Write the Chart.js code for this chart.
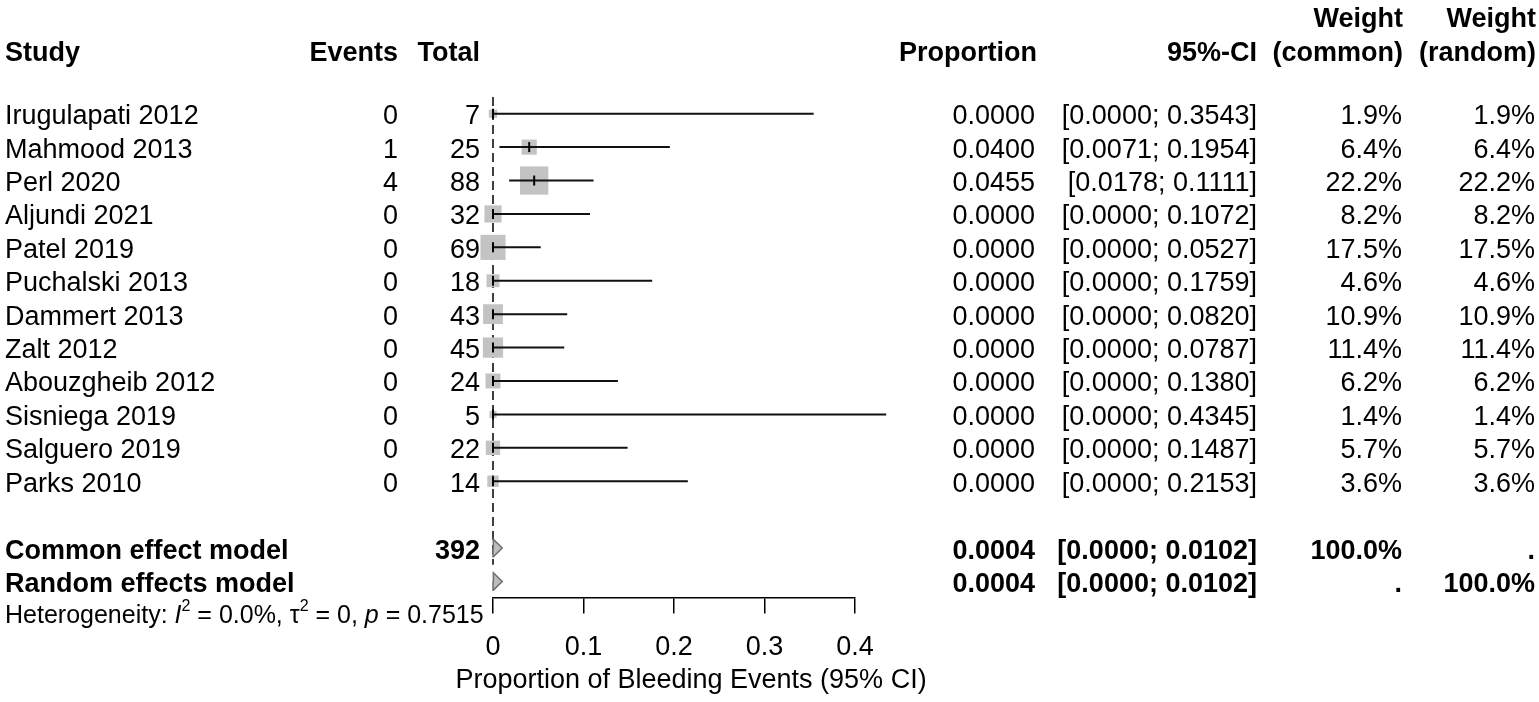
<!DOCTYPE html>
<html>
<head>
<meta charset="utf-8">
<title>Proportion of Bleeding Events - forest plot</title>
<script src="https://cdn.jsdelivr.net/npm/chart.js@4.4.1/dist/chart.umd.min.js"></script>
<style>
  html, body { margin: 0; padding: 0; background: #fff; }
  canvas { display: block; }
</style>
</head>
<body>
<canvas id="forest" width="1539" height="702"></canvas>
<script>
// study level data
const studies = ['Irugulapati 2012', 'Mahmood 2013', 'Perl 2020', 'Aljundi 2021', 'Patel 2019', 'Puchalski 2013',
  'Dammert 2013', 'Zalt 2012', 'Abouzgheib 2012', 'Sisniega 2019', 'Salguero 2019', 'Parks 2010'];
const events = [0, 1, 4, 0, 0, 0, 0, 0, 0, 0, 0, 0];
const totals = [7, 25, 88, 32, 69, 18, 43, 45, 24, 5, 22, 14];
const proportion = [0, 0.0400, 0.0455, 0, 0, 0, 0, 0, 0, 0, 0, 0];
const ciLower = [0, 0.0071, 0.0178, 0, 0, 0, 0, 0, 0, 0, 0, 0];
const ciUpper = [0.3543, 0.1954, 0.1111, 0.1072, 0.0527, 0.1759, 0.0820, 0.0787, 0.1380, 0.4345, 0.1487, 0.2153];
const weightCommon = [1.9, 6.4, 22.2, 8.2, 17.5, 4.6, 10.9, 11.4, 6.2, 1.4, 5.7, 3.6];
const weightRandom = [1.9, 6.4, 22.2, 8.2, 17.5, 4.6, 10.9, 11.4, 6.2, 1.4, 5.7, 3.6];

// pooled models
const models = ['Common effect model', 'Random effects model'];
const modelTotal = ['392', ''];
const modelEst = [0.0004, 0.0004];
const modelLower = [0.0000, 0.0000];
const modelUpper = [0.0102, 0.0102];
const modelWCommon = ['100.0%', '.'];
const modelWRandom = ['.', '100.0%'];

// heterogeneity
const hetI2 = '0.0%';
const hetTau2 = '0';
const hetP = '0.7515';

// x axis
const xTicks = [0, 0.1, 0.2, 0.3, 0.4];
const tickLabels = ['0', '0.1', '0.2', '0.3', '0.4'];
const xTitle = 'Proportion of Bleeding Events (95% CI)';

const FONT = '"Liberation Sans", Arial, Helvetica, sans-serif';
Chart.defaults.font.family = FONT;
Chart.defaults.color = '#000';

// rows: studies 0..11, blank, then the two models
const modelRow = j => studies.length + 1 + j;

// CI segments, broken with null points
const ciData = [];
studies.forEach((s, i) => {
  ciData.push({x: ciLower[i], y: i}, {x: ciUpper[i], y: i}, {x: null, y: null});
});

// box side grows with sqrt of weight (area ~ weight)
const boxRadius = weightCommon.map(w => 6 * Math.sqrt(w) / Math.SQRT2);

function diamond(j) {
  const r = modelRow(j), h = 0.26;
  return [
    {x: modelLower[j], y: r}, {x: modelEst[j], y: r - h},
    {x: modelUpper[j], y: r}, {x: modelEst[j], y: r + h},
    {x: modelLower[j], y: r}
  ];
}

// all the text columns
const textPlugin = {
  id: 'forestText',
  afterDraw(chart) {
    const ctx = chart.ctx;
    const y = chart.scales.y;
    const reg = '27px ' + FONT;
    const bold = 'bold 27px ' + FONT;
    ctx.save();
    ctx.fillStyle = '#000';
    ctx.textBaseline = 'middle';

    function put(txt, x, row, align, font) {
      ctx.font = font;
      ctx.textAlign = align;
      ctx.fillText(txt, x, y.getPixelForValue(row) + 3);
    }

    // header
    put('Study', 5, -1.9, 'left', bold);
    put('Events', 398, -1.9, 'right', bold);
    put('Total', 480, -1.9, 'right', bold);
    put('Proportion', 1037, -1.9, 'right', bold);
    put('95%-CI', 1257, -1.9, 'right', bold);
    put('Weight', 1403, -2.9, 'right', bold);
    put('(common)', 1403, -1.9, 'right', bold);
    put('Weight', 1536, -2.9, 'right', bold);
    put('(random)', 1536, -1.9, 'right', bold);

    studies.forEach((s, i) => {
      put(s, 5, i, 'left', reg);
      put(String(events[i]), 398, i, 'right', reg);
      put(String(totals[i]), 480, i, 'right', reg);
      put(proportion[i].toFixed(4), 1035, i, 'right', reg);
      put('[' + ciLower[i].toFixed(4) + '; ' + ciUpper[i].toFixed(4) + ']', 1257, i, 'right', reg);
      put(weightCommon[i].toFixed(1) + '%', 1402, i, 'right', reg);
      put(weightRandom[i].toFixed(1) + '%', 1535, i, 'right', reg);
    });

    models.forEach((m, j) => {
      const r = modelRow(j);
      put(m, 5, r, 'left', bold);
      put(modelTotal[j], 480, r, 'right', bold);
      put(modelEst[j].toFixed(4), 1035, r, 'right', bold);
      put('[' + modelLower[j].toFixed(4) + '; ' + modelUpper[j].toFixed(4) + ']', 1257, r, 'right', bold);
      put(modelWCommon[j], 1402, r, 'right', bold);
      put(modelWRandom[j], 1535, r, 'right', bold);
    });

    // heterogeneity line with italics and superscripts
    const hy = y.getPixelForValue(modelRow(2) - 0.05) + 3;
    const het = '25px ' + FONT;
    const sup = '16px ' + FONT;
    const parts = [
      ['Heterogeneity: ', het, 0], ['I', 'italic ' + het, 0], ['2', sup, -10],
      [' = ' + hetI2 + ', ', het, 0], ['\u03c4', het, 0], ['2', sup, -10],
      [' = ' + hetTau2 + ', ', het, 0], ['p', 'italic ' + het, 0], [' = ' + hetP, het, 0]
    ];
    let hx = 5;
    ctx.textAlign = 'left';
    parts.forEach(p => {
      ctx.font = p[1];
      ctx.fillText(p[0], hx, hy + p[2]);
      hx += ctx.measureText(p[0]).width;
    });

    // axis title
    ctx.font = reg;
    ctx.textAlign = 'center';
    ctx.fillText(xTitle, 691, 681);
    ctx.restore();
  }
};

new Chart(document.getElementById('forest'), {
  type: 'scatter',
  data: {
    datasets: [
      {
        // estimate ticks
        data: proportion.map((p, i) => ({x: p, y: i})),
        pointStyle: 'line',
        rotation: 90,
        pointRadius: 5,
        borderColor: '#000',
        borderWidth: 2,
        order: 1
      },
      {
        // confidence intervals
        data: ciData,
        showLine: true,
        spanGaps: false,
        borderColor: '#111',
        borderWidth: 2,
        pointRadius: 0,
        order: 2
      },
      {
        // weight boxes
        data: proportion.map((p, i) => ({x: p, y: i})),
        pointStyle: 'rect',
        pointRadius: boxRadius,
        backgroundColor: '#c3c3c3',
        borderWidth: 0,
        order: 3
      },
      {
        // common effect diamond
        data: diamond(0),
        showLine: true,
        fill: 'shape',
        backgroundColor: '#bdbdbd',
        borderColor: '#6f6f6f',
        borderWidth: 1.5,
        pointRadius: 0,
        order: 4
      },
      {
        // random effects diamond
        data: diamond(1),
        showLine: true,
        fill: 'shape',
        backgroundColor: '#bdbdbd',
        borderColor: '#6f6f6f',
        borderWidth: 1.5,
        pointRadius: 0,
        order: 5
      },
      {
        // reference line at the pooled value
        data: [{x: 0, y: -0.5}, {x: 0, y: modelRow(0) + 0.5}],
        showLine: true,
        borderColor: '#000',
        borderWidth: 1.5,
        borderDash: [9, 5],
        pointRadius: 0,
        order: 6
      }
    ]
  },
  options: {
    responsive: false,
    animation: false,
    clip: false,
    layout: {padding: {left: 493, right: 684, top: 97, bottom: 0}},
    plugins: {legend: {display: false}, tooltip: {enabled: false}},
    scales: {
      x: {
        type: 'linear',
        min: 0,
        max: 0.4,
        afterBuildTicks: axis => { axis.ticks = xTicks.map(v => ({value: v})); },
        afterFit: axis => { axis.height = 104.5; },
        grid: {drawOnChartArea: false, drawTicks: true, tickLength: 16, color: '#000', lineWidth: 1.5},
        border: {display: true, color: '#000', width: 1.5},
        ticks: {
          padding: 18,
          font: {size: 27},
          color: '#000',
          maxRotation: 0,
          callback: (v, i) => tickLabels[i]
        }
      },
      y: {
        type: 'linear',
        display: false,
        reverse: true,
        min: -0.5,
        max: 14.48
      }
    }
  },
  plugins: [textPlugin]
});
</script>
</body>
</html>
